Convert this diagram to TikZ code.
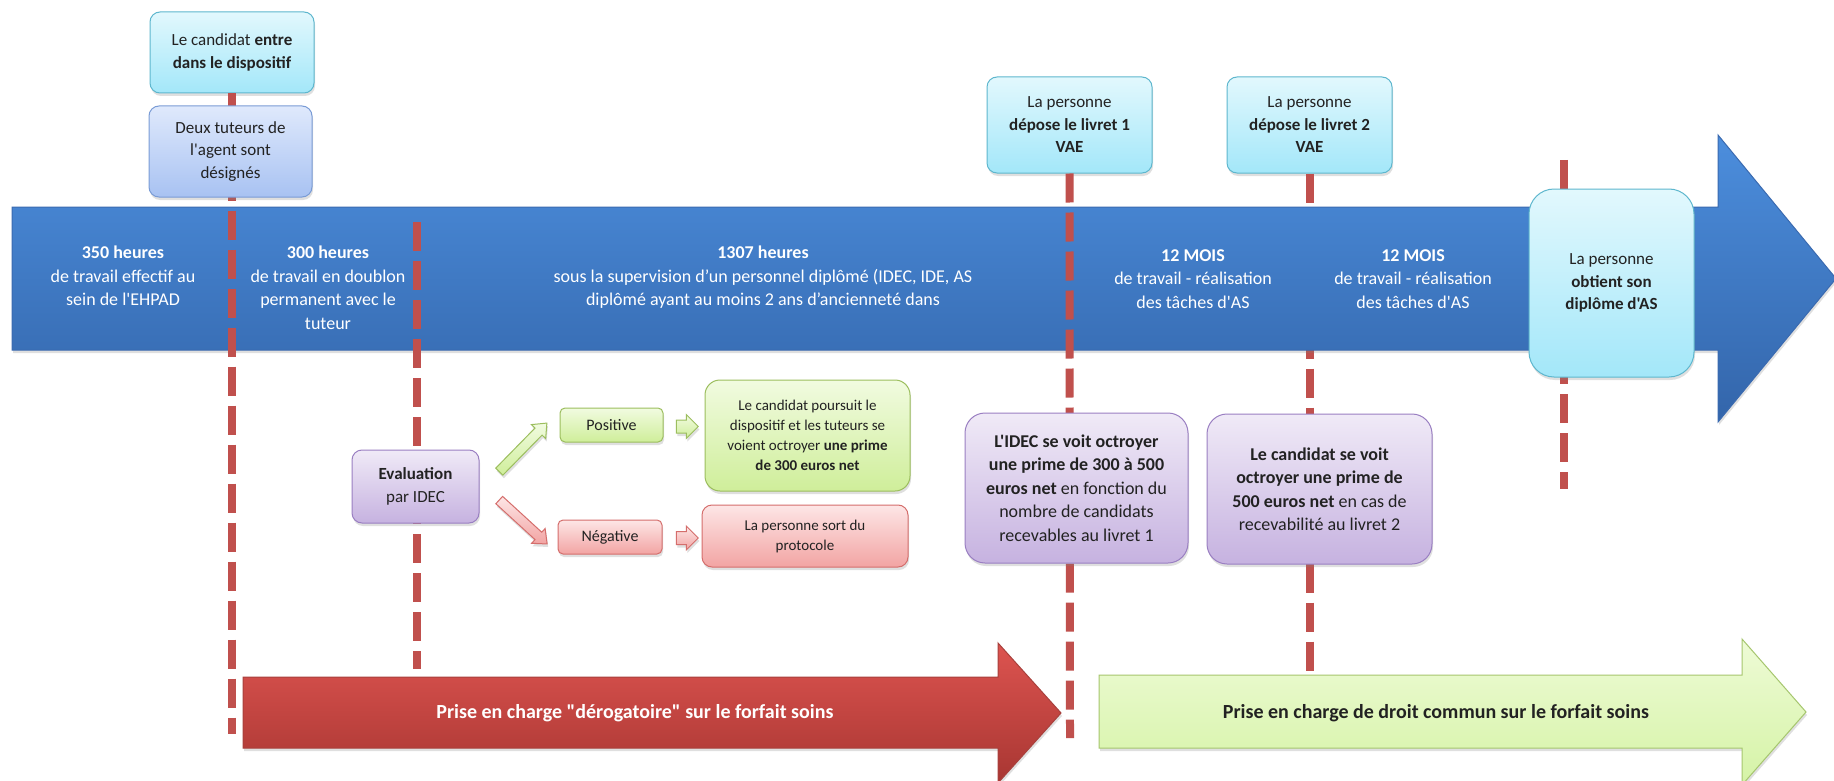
\documentclass[tikz,border=0pt]{standalone}
\usepackage{fontspec}
\setmainfont{Carlito}[Ligatures=TeXOff]
\usetikzlibrary{shapes.arrows,shadows,calc}
\definecolor{tlred}{HTML}{C0504D}
\definecolor{blueT}{HTML}{4C8EDD}
\definecolor{blueB}{HTML}{3365AA}
\definecolor{blueD}{HTML}{3A6AB0}
\definecolor{cyanT}{HTML}{E2F8FD}
\definecolor{cyanB}{HTML}{A3E7F9}
\definecolor{cyanD}{HTML}{5EB7CE}
\definecolor{lblT}{HTML}{DFE9FC}
\definecolor{lblB}{HTML}{A8C2F2}
\definecolor{lblD}{HTML}{7A9CD6}
\definecolor{purT}{HTML}{F0EAF7}
\definecolor{purB}{HTML}{C6B2E0}
\definecolor{purD}{HTML}{9A7FC2}
\definecolor{grT}{HTML}{F1FBE0}
\definecolor{grB}{HTML}{CFEE9A}
\definecolor{grD}{HTML}{9CBE5E}
\definecolor{pkT}{HTML}{FDE6E6}
\definecolor{pkB}{HTML}{F2A4A3}
\definecolor{pkD}{HTML}{D56E6C}
\definecolor{redT}{HTML}{DD5450}
\definecolor{redB}{HTML}{A83632}
\definecolor{redD}{HTML}{A8403C}
\definecolor{garT}{HTML}{EEFBD6}
\definecolor{garB}{HTML}{D5F3A6}
\definecolor{garD}{HTML}{A6C66E}
\definecolor{txt}{HTML}{222222}
\begin{document}
\begin{tikzpicture}[x=1pt,y=-1pt,
  tl/.style={line width=8pt, draw=tlred, dash pattern=on 29pt off 10pt},
  shd/.style={drop shadow={opacity=0.25,shadow xshift=1pt,shadow yshift=-3pt}},
  box/.style={shd, rounded corners=10pt, draw, line width=1pt, align=center, inner sep=0pt, text=txt},
  fA/.style={font=\fontsize{17}{22.5}\selectfont},
  fB/.style={font=\fontsize{18}{23.5}\selectfont},
  fC/.style={font=\fontsize{15}{20}\selectfont},
  cyanbox/.style={box, fA, draw=cyanD, top color=cyanT, bottom color=cyanB},
  lbluebox/.style={box, fA, draw=lblD, top color=lblT, bottom color=lblB},
  purbox/.style={box, draw=purD, top color=purT, bottom color=purB},
  grbox/.style={box, draw=grD, top color=grT, bottom color=grB},
  pkbox/.style={box, draw=pkD, top color=pkT, bottom color=pkB},
  bluetext/.style={fB, text=white, align=center, inner sep=0pt, anchor=north},
  blockarrow/.style={single arrow, draw, line width=1pt, inner xsep=0pt, single arrow head indent=0pt, shd},
  grarrow/.style={blockarrow, draw=grD, top color=grT, bottom color=grB},
  pkarrow/.style={blockarrow, draw=pkD, top color=pkT, bottom color=pkB},
]
\useasboundingbox (0,0) rectangle (1834,781);
\clip (0,0) rectangle (1834,781);
\fill[white] (0,0) rectangle (1834,781);

% top boxes
\node[cyanbox, minimum width=164pt, minimum height=81pt] (b1) at (232,52.5)
  {Le candidat \textbf{entre}\\\textbf{dans le dispositif}};
\node[cyanbox, minimum width=165pt, minimum height=96pt] (b3) at (1069.5,125)
  {La personne\\\textbf{dépose le livret 1}\\\textbf{VAE}};
\node[cyanbox, minimum width=165pt, minimum height=96pt] (b4) at (1309.5,125)
  {La personne\\\textbf{dépose le livret 2}\\\textbf{VAE}};

% line behind the timeline
\coordinate (e4) at (1309.5,675);
\draw[tl] (b4.south) -- (e4);

% main blue arrow
\path[shd, draw=blueD, line width=1pt, top color=blueT, bottom color=blueB]
  (12,207) -- (1718,207) -- (1718,135) -- (1836,278.5) -- (1718,422) -- (1718,350) -- (12,350) -- cycle;

% dashed timeline markers
\coordinate (e1) at (232,734);
\coordinate (s2) at (417,222);
\coordinate (e2) at (417,669);
\coordinate (e3) at (1070,738);
\coordinate (s5) at (1564,160);
\coordinate (e5) at (1564,489);
\draw[tl] (b1.south) -- (e1);
\draw[tl] (s2) -- (e2);
\draw[tl] (b3.south) -- (e3);
\draw[tl] (s5) -- (e5);

% boxes on lines
\node[lbluebox, minimum width=163pt, minimum height=91pt] (b2) at (230.5,151.5)
  {Deux tuteurs de\\l'agent sont\\désignés};
\node[cyanbox, rounded corners=25pt, minimum width=165pt, minimum height=188pt] (b5) at (1611.5,283)
  {La personne\\\textbf{obtient son}\\\textbf{diplôme d'AS}};

% texts on the blue arrow
\node[bluetext] (t1) at (123,246) {\textbf{350 heures}\\de travail effectif au\\sein de l'EHPAD};
\node[bluetext] (t2) at (328,246) {\textbf{300 heures}\\de travail en doublon\\permanent avec le\\tuteur};
\node[bluetext] (t3) at (763,246) {\textbf{1307 heures}\\sous la supervision d’un personnel diplômé (IDEC, IDE, AS\\diplômé ayant au moins 2 ans d’ancienneté dans};
\node[bluetext] (t4) at (1193,249) {\textbf{12 MOIS}\\de travail - réalisation\\des tâches d'AS};
\node[bluetext] (t5) at (1413,249) {\textbf{12 MOIS}\\de travail - réalisation\\des tâches d'AS};

% evaluation branch
\node[purbox, fA, minimum width=127pt, minimum height=73pt] (ev) at (415.5,486.5)
  {\textbf{Evaluation}\\par IDEC};
\node[grbox, rounded corners=5pt, font=\fontsize{16}{20}\selectfont, minimum width=103pt, minimum height=34pt] (pos) at (611.5,425) {Positive};
\node[pkbox, rounded corners=5pt, font=\fontsize{16}{20}\selectfont, minimum width=104pt, minimum height=34pt] (neg) at (610,537) {Négative};
\node[grbox, fC, rounded corners=15pt, minimum width=205pt, minimum height=111pt] (gb) at (807.5,435.5)
  {Le candidat poursuit le\\dispositif et les tuteurs se\\voient octroyer \textbf{une prime}\\\textbf{de 300 euros net}};
\node[pkbox, fC, rounded corners=10pt, minimum width=206pt, minimum height=62pt] (rb) at (805,536)
  {La personne sort du\\protocole};
\node[grarrow, rotate=45.6, minimum height=68pt, inner ysep=4.5pt, single arrow head extend=5pt, single arrow tip angle=80] (a1) at (521,449.5) {};
\node[pkarrow, rotate=-42.5, minimum height=65pt, inner ysep=4.5pt, single arrow head extend=5pt, single arrow tip angle=80] (a2) at (521,520) {};
\node[grarrow, minimum height=22pt, inner ysep=6pt, single arrow head extend=5.5pt] (a3) at (684,426.5) {};
\node[pkarrow, minimum height=22pt, inner ysep=6pt, single arrow head extend=5.5pt] (a4) at (684,538) {};

% premium boxes
\node[purbox, fB, rounded corners=20pt, minimum width=223pt, minimum height=150pt] (p1) at (1076.5,488)
  {\textbf{L'IDEC se voit octroyer}\\\textbf{une prime de 300 à 500}\\\textbf{euros net} en fonction du\\nombre de candidats\\recevables au livret 1};
\node[purbox, fB, rounded corners=20pt, minimum width=225pt, minimum height=150pt] (p2) at (1319.5,489)
  {\textbf{Le candidat se voit}\\\textbf{octroyer une prime de}\\\textbf{500 euros net} en cas de\\recevabilité au livret 2};

% bottom arrows
\path[shd, draw=redD, line width=1pt, top color=redT, bottom color=redB]
  (243,677) -- (998,677) -- (998,643) -- (1061,713) -- (998,783) -- (998,748) -- (243,748) -- cycle;
\node[font=\fontsize{20}{24}\selectfont, text=white, inner sep=0pt] (rt) at (635,713) {\textbf{Prise en charge "dérogatoire" sur le forfait soins}};
\path[shd, draw=garD, line width=1pt, top color=garT, bottom color=garB]
  (1099,675) -- (1742,675) -- (1742,639) -- (1806,712) -- (1742,785) -- (1742,748) -- (1099,748) -- cycle;
\node[font=\fontsize{20}{24}\selectfont, text=txt, inner sep=0pt] (gt) at (1436,713) {\textbf{Prise en charge de droit commun sur le forfait soins}};
\end{tikzpicture}
\end{document}
